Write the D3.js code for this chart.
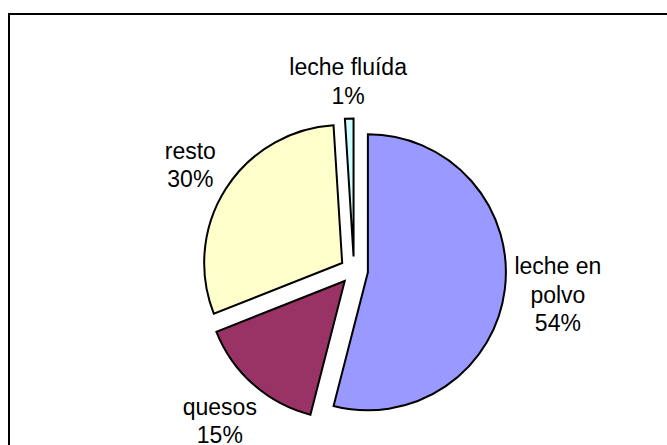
<!DOCTYPE html>
<html>
<head>
<meta charset="utf-8">
<script src="https://cdn.jsdelivr.net/npm/d3@7"></script>
<style>
	body { margin: 0; background: #fff; }
	svg { display: block; }
	text { font-family: "Liberation Sans", Arial, sans-serif; fill: #000; }
</style>
</head>
<body>
<svg width="667" height="445"></svg>
<script>
// slices, clockwise from 12 o'clock
var labels = [["leche en", "polvo"], ["quesos"], ["resto"], ["leche fluída"]];
var values = [54, 15, 30, 1];
var colors = ["#9999FF", "#993366", "#FFFFCC", "#CCFFFF"];

var svg = d3.select("svg"),
	width = +svg.attr("width"),
	height = +svg.attr("height");

// chart area border (runs off the right and bottom of the picture)
svg.append("rect")
	.attr("x", 9)
	.attr("y", 14)
	.attr("width", width + 20)
	.attr("height", height + 20)
	.attr("fill", "none")
	.attr("stroke", "#000")
	.attr("stroke-width", 2);

var cx = 354, cy = 270.5,
	radius = 138,
	explode = 14,
	gap = 5,
	fontSize = 23,
	lineH = 28.5;

var pie = d3.pie().sort(null).value(function(d) { return d; });
var arc = d3.arc().innerRadius(0).outerRadius(radius);
var arcs = pie(values);

var total = d3.sum(values);

var g = svg.append("g").attr("transform", "translate(" + cx + "," + cy + ")");

arcs.forEach(function(d, i) {
	var mid = (d.startAngle + d.endAngle) / 2,
		dx = Math.sin(mid),
		dy = -Math.cos(mid),
		ox = dx * explode,
		oy = dy * explode;

	g.append("path")
		.attr("d", arc(d))
		.attr("transform", "translate(" + ox + "," + oy + ")")
		.attr("fill", colors[i])
		.attr("stroke", "#000")
		.attr("stroke-width", 2)
		.attr("stroke-linejoin", "miter");

	var lines = labels[i].concat([Math.round(d.value / total * 100) + "%"]);
	var t = g.append("text")
		.attr("text-anchor", "middle")
		.style("font-size", fontSize + "px");
	lines.forEach(function(s, k) {
		t.append("tspan").attr("x", 0).attr("y", k * lineH).text(s);
	});

	// push the label box out along the slice's middle until it clears the pie
	var w = 0;
	t.selectAll("tspan").each(function() { w = Math.max(w, this.getComputedTextLength()); });
	var h = lines.length * lineH;
	var ext = Math.abs(dx) * w / 2 + Math.abs(dy) * h / 2;
	var R = radius + gap + ext;
	var lx = ox + dx * R,
		ly = oy + dy * R - h / 2 + lineH * 0.72;
	t.attr("transform", "translate(" + lx + "," + ly + ")");
});
</script>
</body>
</html>
